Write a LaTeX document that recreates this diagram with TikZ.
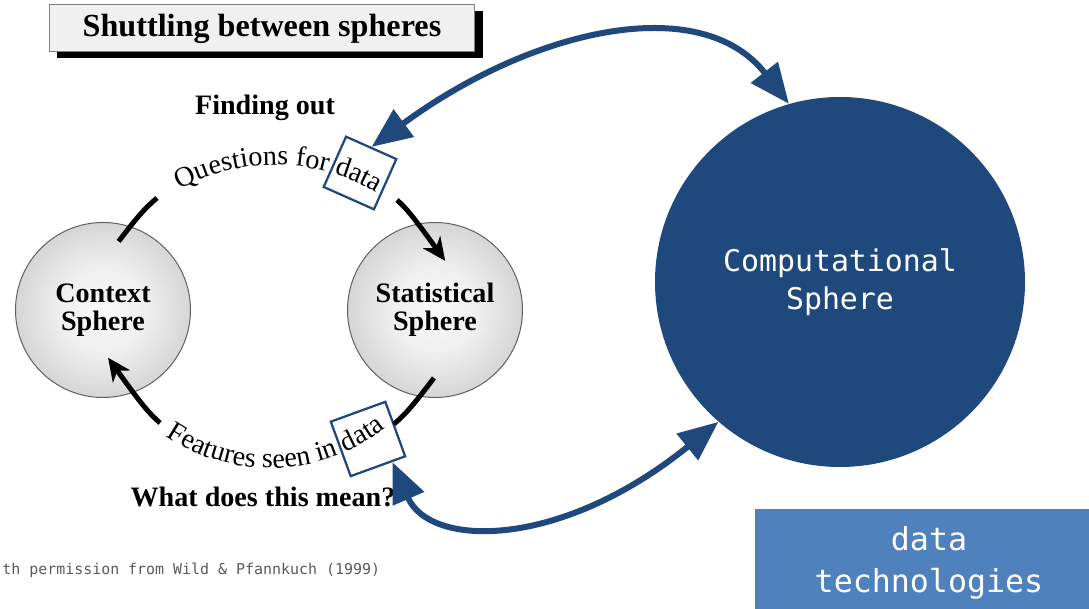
\documentclass[tikz,border=0pt]{standalone}
\usepackage{fontspec}
\setmainfont{Liberation Serif}
\setmonofont{DejaVu Sans Mono}
\usetikzlibrary{arrows.meta,calc,decorations.text,shadows}

\definecolor{compblue}{RGB}{31,73,125}
\definecolor{techblue}{RGB}{79,129,189}
\pgfdeclareradialshading{spherefill}{\pgfpoint{0bp}{0bp}}{%
  color(0bp)=(gray!5); color(12bp)=(gray!12); color(50bp)=(gray!72)}

\begin{document}
\begin{tikzpicture}[
  x=0.2mm, y=0.2mm,
  sphere/.style={circle, draw=gray!75!black, line width=0.2mm, shade, shading=spherefill,
                 minimum size=35mm, inner sep=0pt, align=center,
                 font=\fontsize{16}{16}\selectfont\bfseries},
  titlebox/.style={draw=gray, line width=0.2mm, fill=gray!12,
                   minimum width=85mm, minimum height=9.4mm,
                   font=\fontsize{18.3}{20}\selectfont\bfseries,
                   drop shadow={fill=black, opacity=1, shadow xshift=1.6mm, shadow yshift=-1.2mm}},
  databox/.style={draw=compblue, line width=0.45mm, inner sep=0pt},
  lbl/.style={font=\fontsize{16}{19}\selectfont\bfseries},
  cyc/.style={line width=1mm, black},
  cycarr/.style={cyc, -{Stealth[length=4.6mm, width=4.2mm, inset=1.4mm]}},
  link/.style={line width=1.2mm, compblue,
               {Triangle[length=8mm, width=6.6mm]}-{Triangle[length=8mm, width=6.6mm]}},
  mono/.style={font=\ttfamily\fontsize{17}{21.6}\selectfont, text=white, align=center},
]
  \useasboundingbox (0,0) rectangle (1089,-609);
  \clip (0,0) rectangle (1089,-609);

  \node[titlebox] (title) at (262,-28.5) {Shuttling between spheres};

  % the two spheres of the cycle
  \node[sphere] (ctx) at (103,-310) {Context\\Sphere};
  \node[sphere] (stat) at (435,-310) {Statistical\\Sphere};

  \node[lbl] (find) at (265,-108) {Finding out};
  \node[lbl] (mean) at (263,-497) {What does this mean?};

  % curved captions of the cycle
  \path[decorate, decoration={text along path, text align=left,
      text={|\fontsize{16}{19}\selectfont|Questions for data}}]
    (275,-365) ++(118.5:200) arc[start angle=118.5, end angle=45, radius=200];
  \path[decorate, decoration={text along path, text align=left,
      text={|\fontsize{16}{19}\selectfont|Features seen in data}}]
    (270,-282) ++(236:186) arc[start angle=236, end angle=318, radius=186];

  \node[databox, minimum size=11mm, rotate=-24] (qdat) at (360,-173) {};
  \node[databox, minimum size=11.6mm, rotate=20] (fdat) at (368,-439) {};

  % cycle arcs between the spheres
  \coordinate (qa) at (157,-198);
  \coordinate (qb) at (397,-200);
  \coordinate (fa) at (394,-424);
  \coordinate (fb) at (160,-423);
  \draw[cyc, shorten <=-3.8mm] (ctx.72) to[bend left=6] (qa);
  \draw[cycarr, shorten >=-9.2mm] (qb) to[bend left=6] (stat.101);
  \draw[cyc, shorten <=-4.7mm] (stat.-100) to[bend left=6] (fa);
  \draw[cycarr, shorten >=-8.6mm] (fb) to[bend left=6] (ctx.-70);

  \node[circle, fill=compblue, minimum size=74mm, inner sep=0pt, mono] (comp)
    at (840,-282) {Computational\\Sphere};

  % links to the computational sphere
  \draw[link] (qdat.north) .. controls (530,-30) and (700,10) .. (comp.106);
  \draw[link] ($(fdat.south)!0.5!(fdat.south east)$)
    .. controls (430,-548) and (560,-550) .. (comp.229);

  \node[fill=techblue, minimum width=69.6mm, minimum height=21.6mm, inner sep=0pt, mono,
        font=\ttfamily\fontsize{18}{24}\selectfont] (tech) at (929,-563) {data\\technologies};

  \node[anchor=west, inner sep=0pt, text=gray!70!black,
        font=\ttfamily\fontsize{8.5}{10}\selectfont] (credit) at (2,-570)
    {th permission from Wild \& Pfannkuch (1999)};
\end{tikzpicture}
\end{document}
